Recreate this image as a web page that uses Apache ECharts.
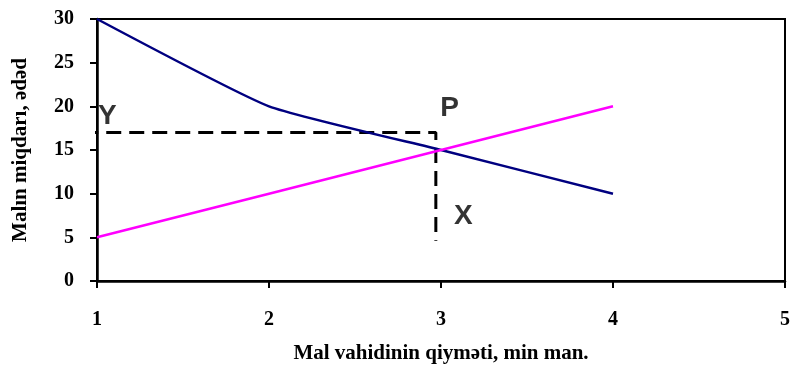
<!DOCTYPE html>
<html>
<head>
<meta charset="utf-8">
<script src="https://cdn.jsdelivr.net/npm/echarts@6/dist/echarts.min.js"></script>
<style>
  html, body { margin: 0; padding: 0; background: #fff; }
  #chart { width: 793px; height: 369px; }
</style>
</head>
<body>
<div id="chart"></div>
<script>
// Price per unit (x) and quantity (y) for the two curves
const prices = [1, 2, 3, 4];
const demandQty = [30, 20, 15, 10];
const supplyQty = [5, 10, 15, 20];

// Equilibrium guide: price level and quantity level of point P
const guidePrice = 2.97;
const guideQty = 17;
const guideStartPrice = 0.92;
const guideBottomQty = 4.6;

// Text marks: [price, quantity, text]
const notes = [
  [1.06, 18.9, 'Y'],
  [3.05, 19.8, 'P'],
  [3.13, 7.4, 'X']
];

const xTicks = [1, 2, 3, 4, 5];
const yTicks = [0, 5, 10, 15, 20, 25, 30];

const serif = '"Liberation Serif", "Times New Roman", serif';
const sans = '"Liberation Sans", Arial, sans-serif';

const chart = echarts.init(document.getElementById('chart'), null, { renderer: 'canvas' });

chart.setOption({
  animation: false,
  backgroundColor: '#fff',
  grid: {
    left: 97, right: 4, top: 19, bottom: 86,
    show: true, borderColor: '#000', borderWidth: 2, backgroundColor: 'transparent'
  },
  xAxis: {
    type: 'value',
    min: xTicks[0], max: xTicks[xTicks.length - 1], interval: 1,
    name: 'Mal vahidinin qiyməti, min man.',
    nameLocation: 'middle', nameGap: 62,
    nameTextStyle: { fontFamily: serif, fontWeight: 'bold', fontSize: 21, color: '#000' },
    axisLine: { show: true, lineStyle: { color: '#000', width: 2.5 } },
    axisTick: { show: true, length: 7, lineStyle: { color: '#000', width: 2 } },
    axisLabel: { margin: 29, fontFamily: serif, fontWeight: 'bold', fontSize: 20, color: '#000' },
    splitLine: { show: false }
  },
  yAxis: {
    type: 'value',
    min: yTicks[0], max: yTicks[yTicks.length - 1], interval: 5,
    name: 'Malın miqdarı, ədəd',
    nameLocation: 'middle', nameGap: 66,
    nameTextStyle: { fontFamily: serif, fontWeight: 'bold', fontSize: 21, color: '#000' },
    axisLine: { show: true, lineStyle: { color: '#000', width: 2.5 } },
    axisTick: { show: true, length: 7, lineStyle: { color: '#000', width: 2 } },
    axisLabel: { margin: 23, fontFamily: serif, fontWeight: 'bold', fontSize: 20, color: '#000' },
    splitLine: { show: false }
  },
  series: [
    {
      type: 'line',
      data: prices.map((p, i) => [p, demandQty[i]]),
      smooth: 0.15,
      showSymbol: false,
      lineStyle: { color: '#000080', width: 2.5 },
      z: 3
    },
    {
      type: 'line',
      data: prices.map((p, i) => [p, supplyQty[i]]),
      showSymbol: false,
      lineStyle: { color: '#FF00FF', width: 2.5 },
      z: 4
    },
    {
      type: 'line',
      data: [[guideStartPrice, guideQty], [guidePrice, guideQty], [guidePrice, guideBottomQty]],
      showSymbol: false,
      clip: false,
      lineStyle: { color: '#000', width: 3, type: [15, 8] },
      z: 2
    },
    {
      type: 'scatter',
      data: notes.map(n => ({ value: [n[0], n[1]], name: n[2] })),
      symbolSize: 0,
      label: {
        show: true, position: 'inside',
        formatter: p => p.name,
        fontFamily: sans, fontWeight: 'bold', fontSize: 28, color: '#000',
        textBorderWidth: 0
      },
      z: 5
    }
  ]
});
</script>
</body>
</html>
